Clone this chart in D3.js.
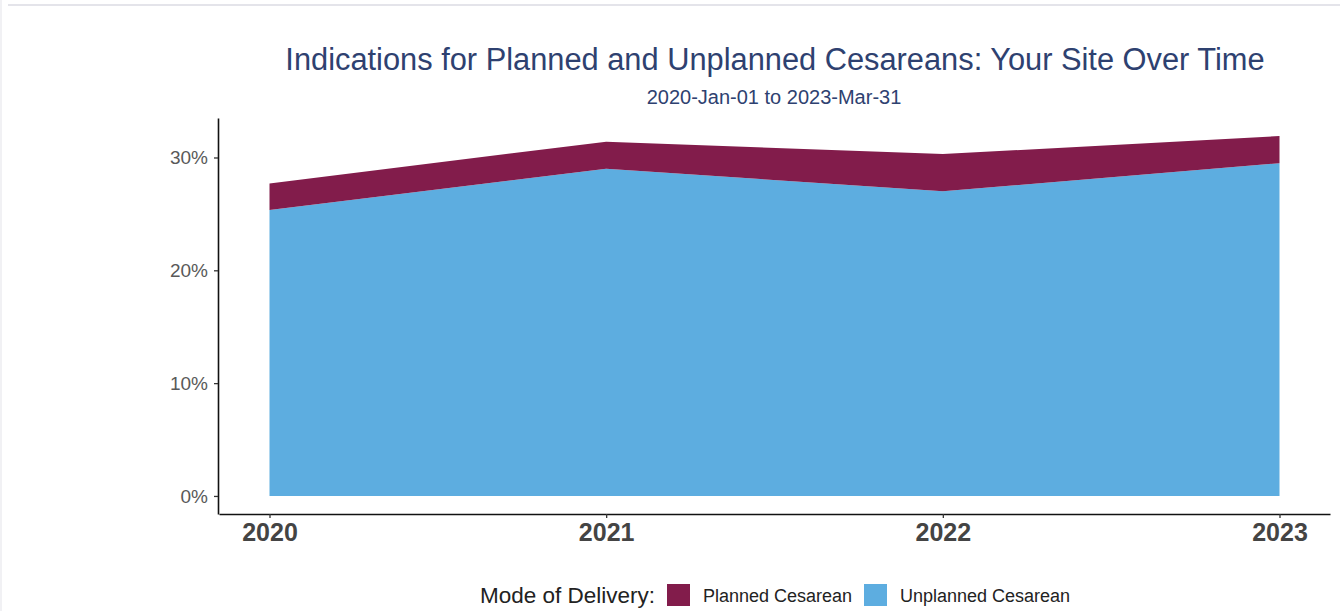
<!DOCTYPE html>
<html>
<head>
<meta charset="utf-8">
<script src="https://cdn.jsdelivr.net/npm/d3@7"></script>
<style>
  body { margin: 0; background: #fff; }
  svg { display: block; font-family: "Liberation Sans", Arial, Helvetica, sans-serif; }
</style>
</head>
<body>
<div id="chart"></div>
<script>
// data
let years = [2020, 2021, 2022, 2023];
let unplanned = [0.2535, 0.290, 0.270, 0.295];
let planned = [0.0235, 0.024, 0.033, 0.024];
let seriesNames = ["Planned Cesarean", "Unplanned Cesarean"];
let seriesColors = ["#821C4B", "#5DADE0"];
let yTicks = [0, 0.1, 0.2, 0.3];

let width = 1340;
let height = 611;

let svg = d3.select("#chart")
    .append("svg")
    .attr("width", width)
    .attr("height", height);

// faint page frame seen in the screenshot
svg.append("line")
    .attr("x1", 8).attr("x2", width).attr("y1", 5).attr("y2", 5)
    .attr("stroke", "#e4e4ea").attr("stroke-width", 2);
svg.append("line")
    .attr("x1", 1).attr("x2", 1).attr("y1", 0).attr("y2", height)
    .attr("stroke", "#ececf0").attr("stroke-width", 1.5);

// scales with ggplot style 5% padding
let x = d3.scaleLinear()
    .domain([2020 - 0.15, 2023 + 0.15])
    .range([219, 1330]);

let y = d3.scaleLinear()
    .domain([-0.016, 0.335])
    .range([514, 118]);

let rows = years.map(function (yr, i) {
    return { year: yr, "Unplanned Cesarean": unplanned[i], "Planned Cesarean": planned[i] };
});

// unplanned sits on the bottom, planned stacked above it
let stack = d3.stack().keys(["Unplanned Cesarean", "Planned Cesarean"]);
let layers = stack(rows);

let area = d3.area()
    .x(function (d) { return x(d.data.year); })
    .y0(function (d) { return y(d[0]); })
    .y1(function (d) { return y(d[1]); });

svg.append("g")
    .selectAll("path")
    .data(layers)
    .enter()
    .append("path")
    .attr("d", area)
    .attr("fill", function (d) { return seriesColors[seriesNames.indexOf(d.key)]; });

// y axis
let yAxis = svg.append("g")
    .attr("transform", "translate(218,0)")
    .call(d3.axisLeft(y).tickValues(yTicks).tickFormat(d3.format(".0%"))
        .tickSizeInner(4).tickSizeOuter(0).tickPadding(6));
yAxis.select(".domain").attr("stroke", "#111").attr("stroke-width", 1.6);
yAxis.selectAll(".tick line").attr("stroke", "#333").attr("stroke-width", 1.3);
yAxis.selectAll(".tick text")
    .attr("fill", "#595959")
    .style("font-size", "19px")
    .style("font-family", "Liberation Sans, Arial, sans-serif");

// x axis
let xAxis = svg.append("g")
    .attr("transform", "translate(0,514)")
    .call(d3.axisBottom(x).tickValues(years).tickFormat(d3.format("d"))
        .tickSizeInner(4).tickSizeOuter(0).tickPadding(5));
xAxis.select(".domain").attr("stroke", "#111").attr("stroke-width", 1.6);
xAxis.selectAll(".tick line").attr("stroke", "#333").attr("stroke-width", 1.3);
xAxis.selectAll(".tick text")
    .attr("fill", "#444")
    .style("font-size", "25px")
    .style("font-weight", "bold")
    .style("font-family", "Liberation Sans, Arial, sans-serif");

// title and subtitle
svg.append("text")
    .attr("x", 775).attr("y", 70)
    .attr("text-anchor", "middle")
    .attr("fill", "#2E4170")
    .style("font-size", "30.8px")
    .text("Indications for Planned and Unplanned Cesareans: Your Site Over Time");

svg.append("text")
    .attr("x", 774).attr("y", 104)
    .attr("text-anchor", "middle")
    .attr("fill", "#2E4170")
    .style("font-size", "20px")
    .text("2020-Jan-01 to 2023-Mar-31");

// legend
let legend = svg.append("g").attr("transform", "translate(0,603)");
legend.append("text")
    .attr("x", 655).attr("y", 0)
    .attr("text-anchor", "end")
    .attr("fill", "#222")
    .style("font-size", "22.5px")
    .text("Mode of Delivery:");

let legendX = [667, 864];
seriesNames.forEach(function (name, i) {
    legend.append("rect")
        .attr("x", legendX[i]).attr("y", -19)
        .attr("width", 23).attr("height", 22)
        .attr("fill", seriesColors[i]);
    legend.append("text")
        .attr("x", legendX[i] + 36).attr("y", -1)
        .attr("fill", "#222")
        .style("font-size", "18px")
        .text(name);
});
</script>
</body>
</html>
